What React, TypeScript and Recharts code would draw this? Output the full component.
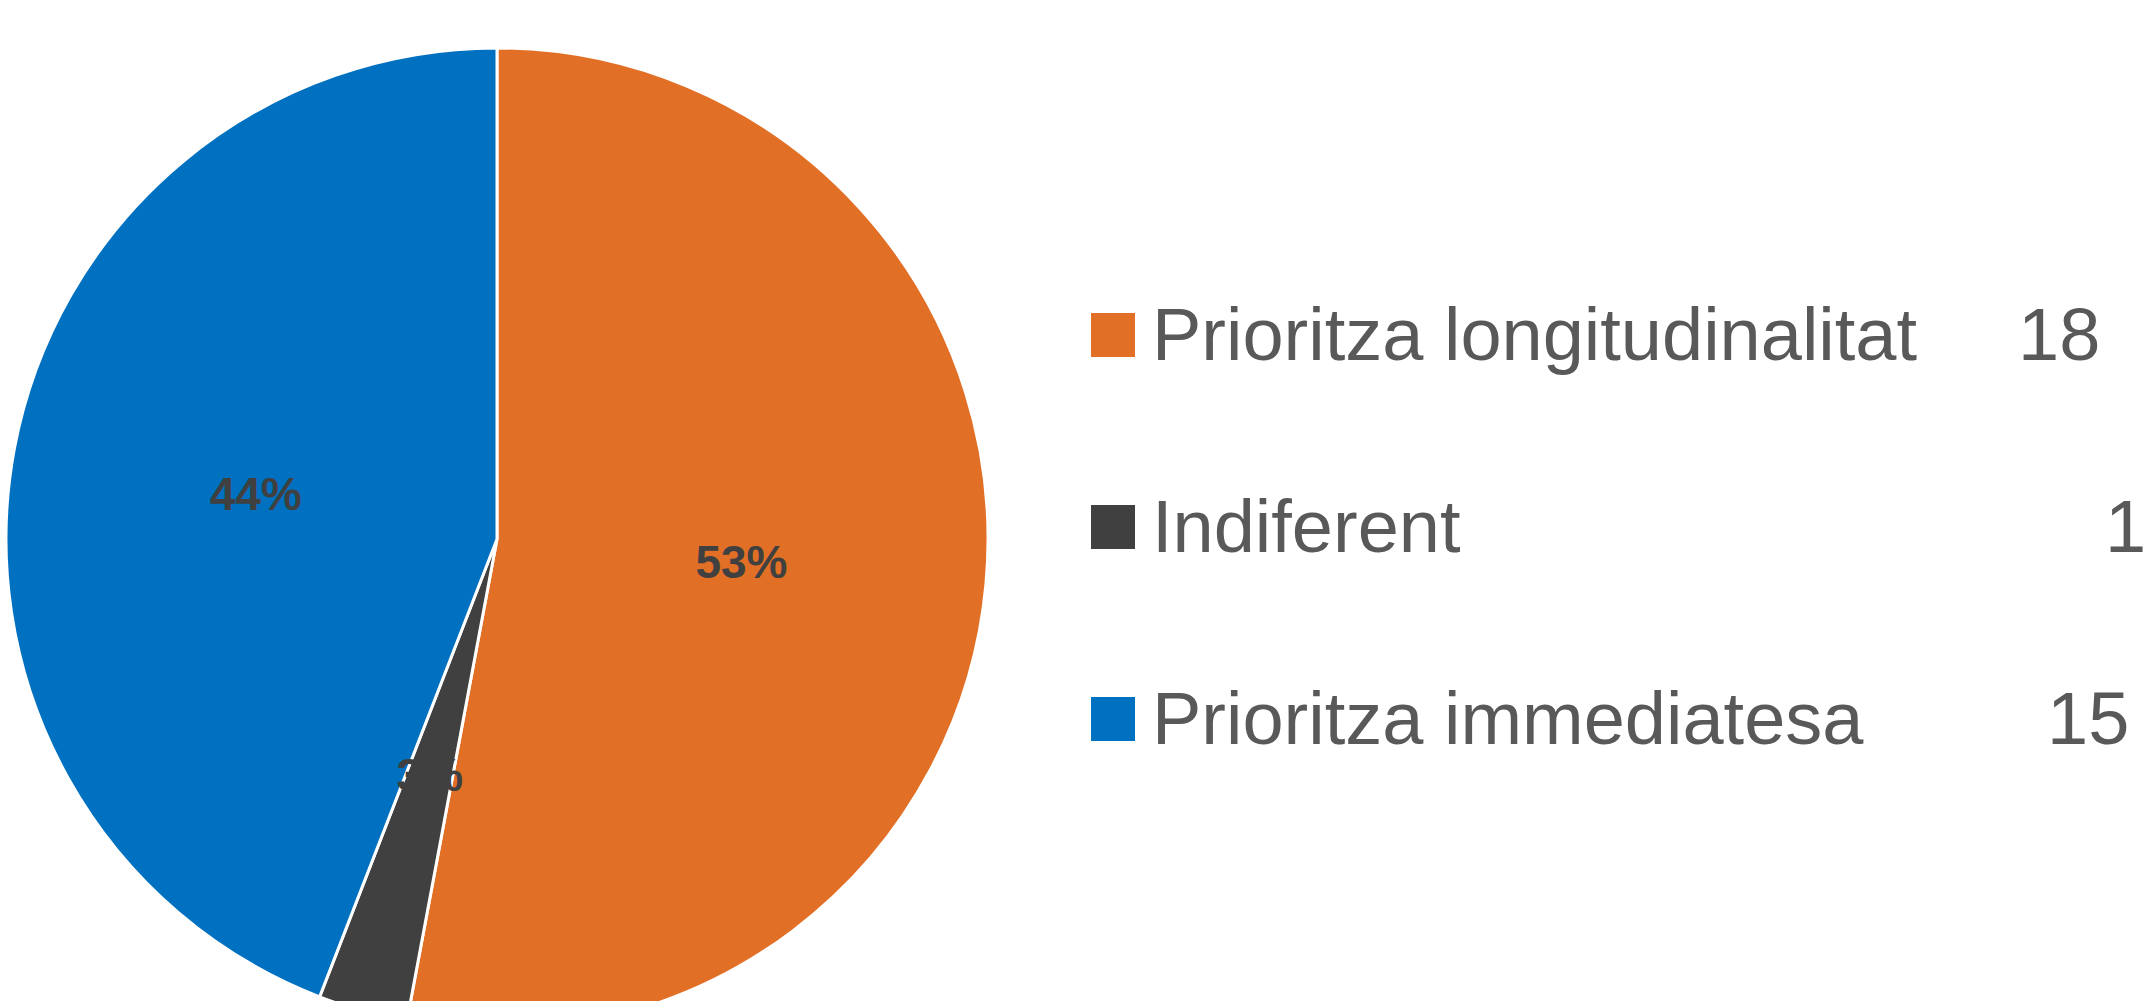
import { Cell, Legend, Pie, PieChart } from "recharts"

// slice data
const names = ["Prioritza longitudinalitat", "Indiferent", "Prioritza immediatesa"]
const counts = [18, 1, 15]
const COLORS = ["#E26F26", "#404040", "#0070C0"]

// where each count sits in the legend row (tab-like stops in the original)
const VALUE_LEFT = [927, 1014, 956]

const data = names.map((name, i) => ({ name, value: counts[i] }))

const RADIAN = Math.PI / 180
const FONT = '"Liberation Sans", Arial, sans-serif'

const renderLabel = (props: any) => {
    const { cx, cy, midAngle, outerRadius, percent } = props
    const r = outerRadius * 0.5
    const x = cx + r * Math.cos(-midAngle * RADIAN)
    const y = cy + r * Math.sin(-midAngle * RADIAN)
    return (
        <text
            x={x}
            y={y}
            fill="#404040"
            textAnchor="middle"
            dominantBaseline="central"
            fontFamily={FONT}
            fontWeight="bold"
            fontSize={46}
        >
            {`${Math.round(percent * 100)}%`}
        </text>
    )
}

const renderLegend = () => (
    <div style={{ position: "relative", width: 1056, height: 1001, fontFamily: FONT, color: "#595959" }}>
        {data.map((entry, i) => (
            <div key={entry.name} style={{ position: "absolute", left: 0, top: 298 + i * 192, height: 74, width: 1056 }}>
                <div style={{ position: "absolute", left: 0, top: 15, width: 44, height: 44, background: COLORS[i] }} />
                <span style={{ position: "absolute", left: 61, top: 0, fontSize: 74, lineHeight: 1, whiteSpace: "nowrap" }}>
                    {entry.name}
                </span>
                <span style={{ position: "absolute", left: VALUE_LEFT[i], top: 0, fontSize: 74, lineHeight: 1 }}>
                    {entry.value}
                </span>
            </div>
        ))}
    </div>
)

export default function App() {
    return (
        <div style={{ width: 2147, height: 1001, background: "#fff", overflow: "hidden" }}>
            <style>{`body{margin:0}`}</style>
            <PieChart width={2147} height={1001} margin={{ top: 0, right: 0, bottom: 0, left: 0 }}>
                <Pie
                    data={data}
                    dataKey="value"
                    nameKey="name"
                    cx={497}
                    cy={539}
                    outerRadius={491}
                    startAngle={90}
                    endAngle={-270}
                    stroke="#fff"
                    strokeWidth={3}
                    label={renderLabel}
                    labelLine={false}
                    isAnimationActive={false}
                >
                    {data.map((entry, index) => (
                        <Cell key={`cell-${index}`} fill={COLORS[index % COLORS.length]} />
                    ))}
                </Pie>
                <Legend
                    layout="vertical"
                    align="right"
                    verticalAlign="top"
                    content={renderLegend}
                    wrapperStyle={{ left: 1091, top: 0, right: "auto", width: 1056, height: 1001 }}
                />
            </PieChart>
        </div>
    )
}
